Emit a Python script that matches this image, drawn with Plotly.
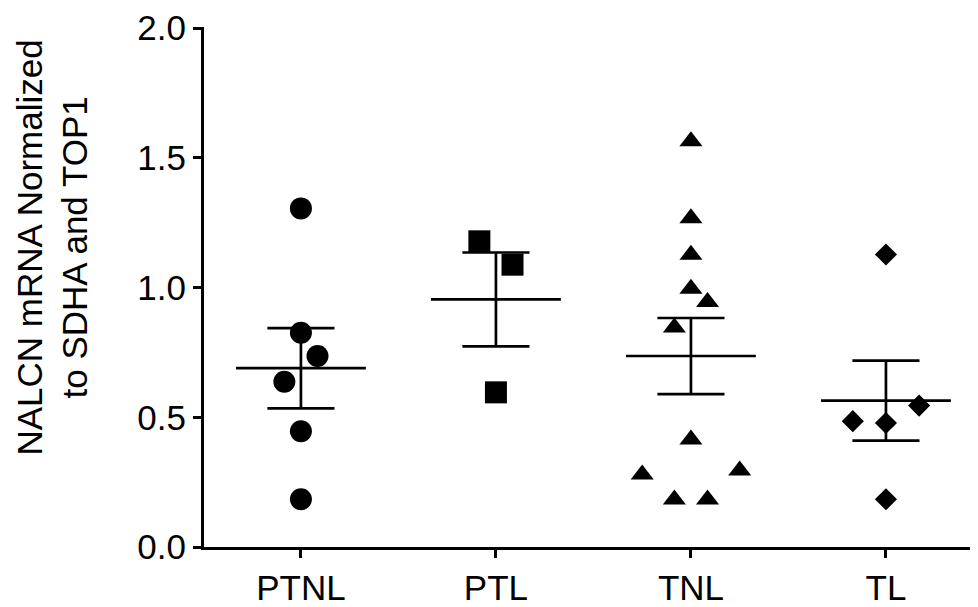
import numpy as np
import plotly.graph_objects as go

# ---- data ----
categories = ["PTNL", "PTL", "TNL", "TL"]

ptnl_values = [1.305, 0.826, 0.736, 0.637, 0.446, 0.184]
ptl_values = [1.178, 1.088, 0.596]
tnl_values = [1.564, 1.267, 1.126, 0.995, 0.944, 0.846, 0.414, 0.279, 0.295, 0.183, 0.183]
tl_values = [1.127, 0.545, 0.485, 0.478, 0.184]

y_tick_values = [0.0, 0.5, 1.0, 1.5, 2.0]
y_tick_labels = ["0.0", "0.5", "1.0", "1.5", "2.0"]

# ---- layout helpers (horizontal scatter offsets, in category units) ----
ptnl_jitter = [0.0, 0.0, 0.085, -0.085, 0.0, 0.0]
ptl_jitter = [-0.085, 0.085, 0.0]
tnl_jitter = [0.0, 0.0, 0.0, 0.0, 0.085, -0.085, 0.0, -0.25, 0.25, -0.085, 0.085]
tl_jitter = [0.0, 0.17, -0.17, 0.0, 0.0]

groups = [
    (ptnl_values, ptnl_jitter, "circle", 22),
    (ptl_values, ptl_jitter, "square", 22),
    (tnl_values, tnl_jitter, "triangle-up", 20),
    (tl_values, tl_jitter, "diamond", 17),
]

MEAN_HALF = 0.333
CAP_HALF = 0.172
LINE_W = 2.7
FONT = "Liberation Sans, Arial, Helvetica, sans-serif"

fig = go.Figure()

for i, (vals, jit, sym, size) in enumerate(groups):
    vals = np.array(vals, dtype=float)
    xs = [i + j for j in jit]
    fig.add_trace(go.Scatter(
        x=xs, y=vals, mode="markers",
        marker=dict(symbol=sym, size=size, color="black", line=dict(width=0)),
        showlegend=False, hoverinfo="y",
    ))
    mean = vals.mean()
    sem = vals.std(ddof=1) / np.sqrt(len(vals))
    lx = [i - MEAN_HALF, i + MEAN_HALF, None,
          i - CAP_HALF, i + CAP_HALF, None,
          i - CAP_HALF, i + CAP_HALF, None,
          i, i]
    ly = [mean, mean, None,
          mean + sem, mean + sem, None,
          mean - sem, mean - sem, None,
          mean - sem, mean + sem]
    fig.add_trace(go.Scatter(
        x=lx, y=ly, mode="lines",
        line=dict(color="black", width=LINE_W),
        showlegend=False, hoverinfo="skip",
    ))

# the page body adds an 8px margin, so the figure is 8px smaller each way
fig.update_layout(
    width=970, height=599,
    margin=dict(l=196, r=0, t=17, b=60),
    paper_bgcolor="white", plot_bgcolor="white",
    font=dict(family=FONT, size=35, color="black"),
    xaxis=dict(
        range=[-0.497, 3.472],
        tickmode="array", tickvals=list(range(len(categories))), ticktext=categories,
        showgrid=False, zeroline=False,
        showline=True, linecolor="black", linewidth=3,
        ticks="outside", ticklen=8, tickwidth=3, tickcolor="black",
        tickfont=dict(family=FONT, size=35, color="black"),
        ticklabeloverflow="allow",
    ),
    yaxis=dict(
        range=[0, 2.004],
        tickmode="array", tickvals=y_tick_values, ticktext=y_tick_labels,
        showgrid=False, zeroline=False,
        showline=True, linecolor="black", linewidth=3,
        ticks="outside", ticklen=8, tickwidth=3, tickcolor="black",
        tickfont=dict(family=FONT, size=35, color="black"),
        ticklabeloverflow="allow",
    ),
)

fig.add_annotation(
    text="NALCN mRNA Normalized<br>to SDHA and TOP1",
    xref="paper", yref="paper", x=-0.197, y=0.575,
    xanchor="center", yanchor="middle",
    textangle=-90, showarrow=False,
    font=dict(family=FONT, size=35, color="black"),
)

fig.write_html("out.html")
